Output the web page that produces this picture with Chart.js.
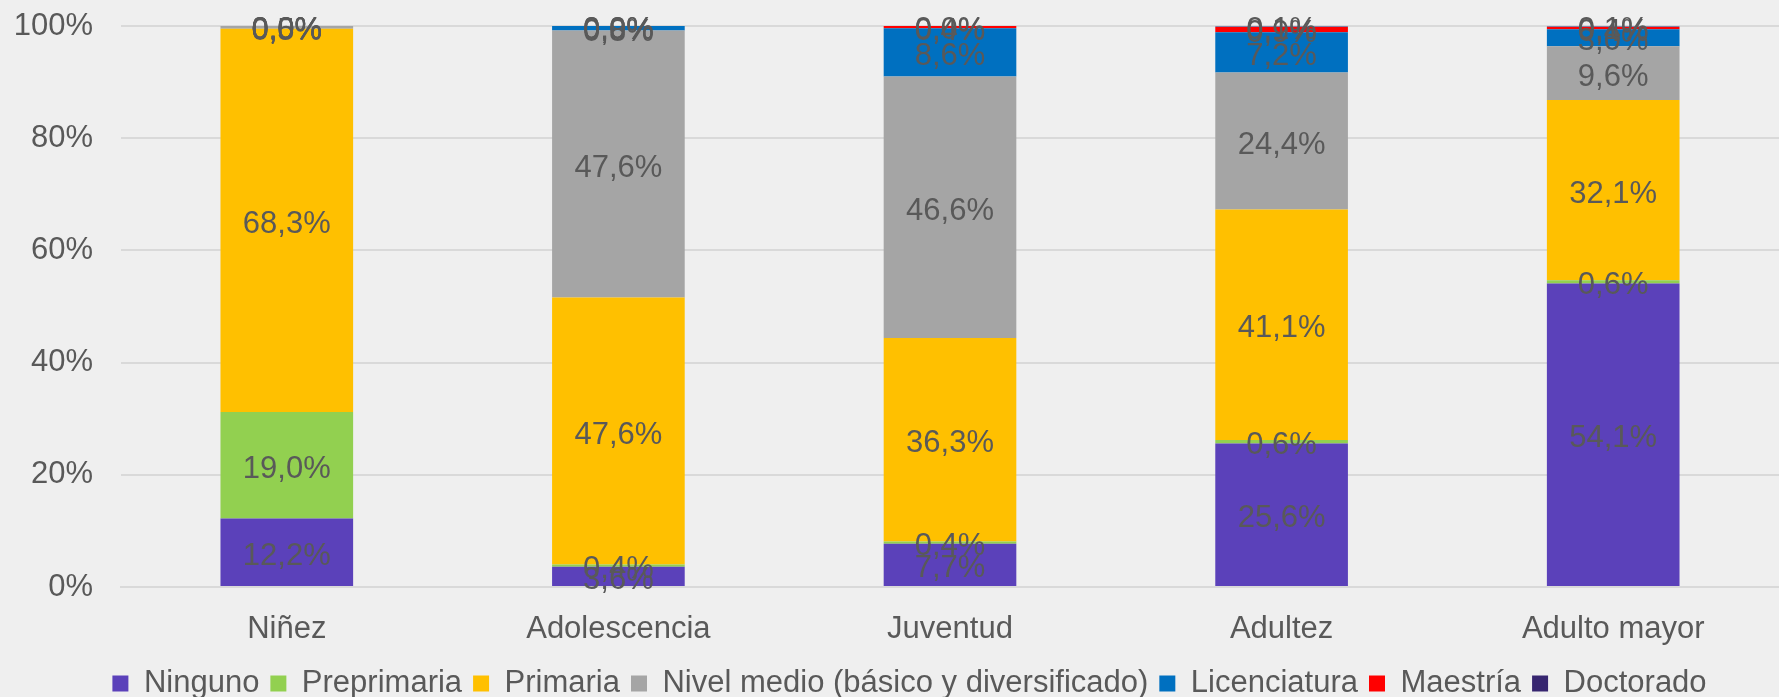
<!DOCTYPE html>
<html>
<head>
<meta charset="utf-8">
<script src="https://cdn.jsdelivr.net/npm/chart.js@4/dist/chart.umd.min.js"></script>
<style>
  html, body { margin: 0; padding: 0; background: #efefef; }
  #wrap { width: 1779px; height: 697px; }
</style>
</head>
<body>
<div id="wrap"><canvas id="chart"></canvas></div>
<script>
// Categories (age groups)
const categories = ['Niñez', 'Adolescencia', 'Juventud', 'Adultez', 'Adulto mayor'];

// Series values, percent per category
const ninguno      = [12.2,  3.6,  7.7, 25.6, 54.1];
const preprimaria  = [19.0,  0.4,  0.4,  0.6,  0.6];
const primaria     = [68.3, 47.6, 36.3, 41.1, 32.1];
const nivelMedio   = [ 0.5, 47.6, 46.6, 24.4,  9.6];
const licenciatura = [ 0.0,  0.8,  8.6,  7.2,  3.0];
const maestria     = [ 0.0,  0.0,  0.4,  0.9,  0.4];
const doctorado    = [ 0.0,  0.0,  0.0,  0.1,  0.1];

// Y tick labels
const yTicks = ['0%', '20%', '40%', '60%', '80%', '100%'];

const FONT = '"Liberation Sans", Arial, sans-serif';
const TEXT = '#595959';

// Draw the value label in the middle of every bar segment
const segmentLabels = {
    id: 'segmentLabels',
    afterDatasetsDraw(chart) {
        const ctx = chart.ctx;
        ctx.save();
        ctx.font = '31px ' + FONT;
        ctx.fillStyle = TEXT;
        ctx.textAlign = 'center';
        ctx.textBaseline = 'middle';
        chart.data.datasets.forEach((ds, i) => {
            const meta = chart.getDatasetMeta(i);
            meta.data.forEach((bar, j) => {
                const v = ds.data[j];
                const y = (bar.y + bar.base) / 2;
                ctx.fillText(v.toFixed(1).replace('.', ',') + '%', bar.x, y + 4);
            });
        });
        ctx.restore();
    }
};

// Excel centres the legend a bit right of the canvas centre
const legendNudge = {
    id: 'legendNudge',
    afterLayout(chart) {
        if (chart.legend) {
            chart.legend.left += 20;
            chart.legend.right += 20;
        }
    }
};

const series = [
    { label: 'Ninguno', data: ninguno, color: '#5b41ba' },
    { label: 'Preprimaria', data: preprimaria, color: '#92d050' },
    { label: 'Primaria', data: primaria, color: '#ffc000' },
    { label: 'Nivel medio (básico y diversificado)', data: nivelMedio, color: '#a5a5a5' },
    { label: 'Licenciatura', data: licenciatura, color: '#0070c0' },
    { label: 'Maestría', data: maestria, color: '#ff0000' },
    { label: 'Doctorado', data: doctorado, color: '#372670' }
];

new Chart(document.getElementById('chart'), {
    type: 'bar',
    data: {
        labels: categories,
        datasets: series.map(s => ({
            label: s.label,
            data: s.data,
            backgroundColor: s.color,
            borderWidth: 0,
            categoryPercentage: 1,
            barPercentage: 0.4
        }))
    },
    options: {
        responsive: true,
        maintainAspectRatio: false,
        animation: false,
        layout: { padding: { top: 26, right: 0, left: 0, bottom: -12 } },
        plugins: {
            legend: {
                position: 'bottom',
                labels: {
                    color: TEXT,
                    font: { family: FONT, size: 31 },
                    boxWidth: 16,
                    boxHeight: 16,
                    padding: 11
                }
            },
            tooltip: { enabled: false }
        },
        scales: {
            x: {
                stacked: true,
                grid: { display: false, drawTicks: false },
                border: { display: true, color: '#d9d9d9', width: 2 },
                ticks: { color: TEXT, font: { family: FONT, size: 31 }, padding: 24 },
                afterFit: s => { s.height = 70; }
            },
            y: {
                stacked: true,
                min: 0,
                max: 100,
                grid: { color: '#d9d9d9', lineWidth: 2, drawTicks: false },
                border: { display: false },
                ticks: {
                    stepSize: 20,
                    padding: 28,
                    color: TEXT,
                    font: { family: FONT, size: 31 },
                    callback: (v) => yTicks[v / 20]
                },
                afterFit: s => {
                    s.width = 121;
                    s.paddingTop = 0;
                    s.paddingBottom = 0;
                }
            }
        }
    },
    plugins: [segmentLabels, legendNudge]
});
</script>
</body>
</html>
